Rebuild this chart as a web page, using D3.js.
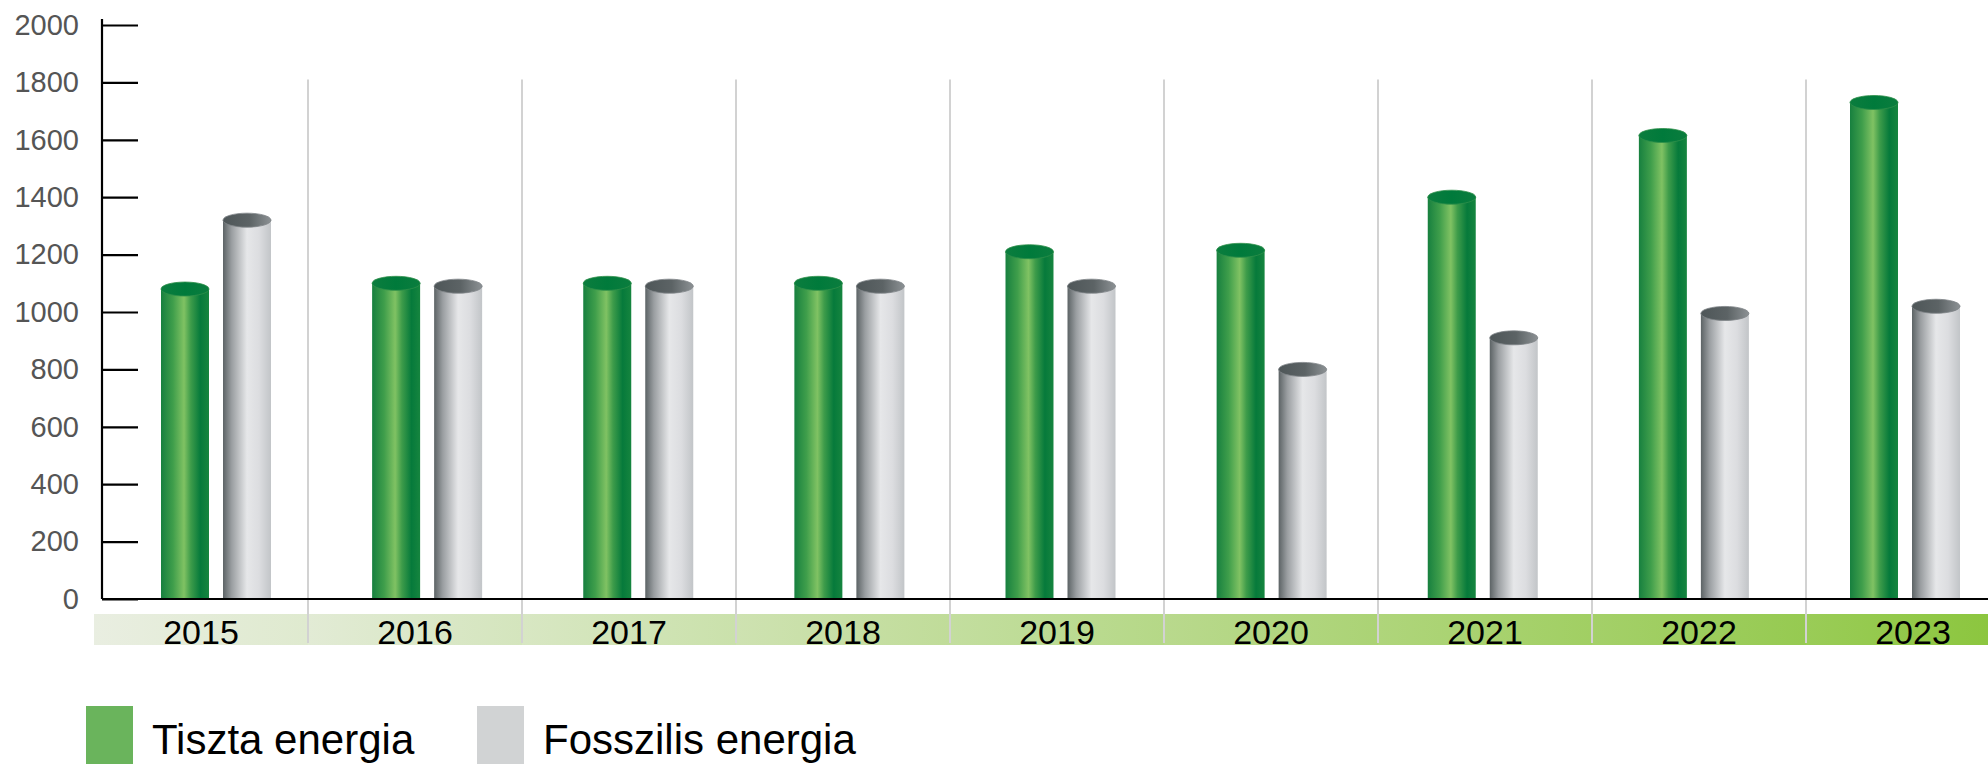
<!DOCTYPE html>
<html>
<head>
<meta charset="utf-8">
<script src="https://cdn.jsdelivr.net/npm/d3@7"></script>
<style>
  html, body { margin: 0; padding: 0; background: #fff; }
  svg { display: block; font-family: "Liberation Sans", Arial, sans-serif; }
</style>
</head>
<body>
<div id="chart"></div>
<script>
// Chart data
const years = ["2015", "2016", "2017", "2018", "2019", "2020", "2021", "2022", "2023"];
const seriesNames = ["Tiszta energia", "Fosszilis energia"];
const cleanEnergy = [1080, 1100, 1100, 1100, 1210, 1215, 1400, 1615, 1730];
const fossilEnergy = [1320, 1090, 1090, 1090, 1090, 800, 910, 995, 1020];
const yTicks = [0, 200, 400, 600, 800, 1000, 1200, 1400, 1600, 1800, 2000];

const width = 1988, height = 764;

const svg = d3.select("#chart").append("svg")
    .attr("width", width)
    .attr("height", height);

const defs = svg.append("defs");

// Horizontal gradients for the cylinder bodies
function hGrad(id, stops) {
  const g = defs.append("linearGradient").attr("id", id)
      .attr("x1", "0%").attr("x2", "100%").attr("y1", "0%").attr("y2", "0%");
  stops.forEach(s => g.append("stop").attr("offset", s[0]).attr("stop-color", s[1]));
}
hGrad("greenBody", [["0%", "#17803f"], ["25%", "#3f9e4b"], ["48%", "#80c263"], ["62%", "#3e9c4a"], ["82%", "#067a3b"], ["100%", "#16853f"]]);
hGrad("grayBody", [["0%", "#5c6365"], ["18%", "#9a9ea1"], ["50%", "#e6e7e9"], ["75%", "#dcdde0"], ["100%", "#c2c5c8"]]);
hGrad("greenTop", [["0%", "#0b7d3e"], ["50%", "#007a3b"], ["100%", "#0b7d3e"]]);
hGrad("grayTop", [["0%", "#4e5658"], ["55%", "#5c6365"], ["100%", "#8c9194"]]);

// Scales: categories (band + separators) and bar pair centres
const x = d3.scaleBand().domain(years).range([94, 2020]).paddingInner(0).paddingOuter(0);
const xBar = d3.scalePoint().domain(years).range([216, 1905]);
const x1 = d3.scaleBand().domain(seriesNames).range([-55, 55]).paddingInner(0.226).paddingOuter(0);
const y = d3.scaleLinear().domain([0, 2000]).range([599, 25]);

// Category band under the axis, gradient from pale to green
const bandColor = d3.interpolateRgb("#e9eee1", "#8cc63f");
const bandTop = 614, bandH = 31;
years.forEach((yr, i) => {
  const id = "band" + i;
  const g = defs.append("linearGradient").attr("id", id)
      .attr("x1", "0%").attr("x2", "100%").attr("y1", "0%").attr("y2", "0%");
  g.append("stop").attr("offset", "0%").attr("stop-color", bandColor(Math.max(0, i / 9 - 0.04)));
  g.append("stop").attr("offset", "100%").attr("stop-color", bandColor((i + 1) / 9));
  svg.append("rect")
      .attr("x", x(yr))
      .attr("y", bandTop)
      .attr("width", Math.min(x.bandwidth(), width - x(yr)))
      .attr("height", bandH)
      .attr("fill", "url(#" + id + ")");
});

// Vertical separators between categories
svg.append("g").selectAll("line")
  .data(years.slice(1))
  .join("line")
    .attr("x1", d => x(d)).attr("x2", d => x(d))
    .attr("y1", y(1810)).attr("y2", bandTop + bandH - 2)
    .attr("stroke", "#d2d2d2")
    .attr("stroke-width", 2);

// Year labels
svg.append("g").selectAll("text")
  .data(years)
  .join("text")
    .attr("x", d => x(d) + x.bandwidth() / 2)
    .attr("y", 644)
    .attr("text-anchor", "middle")
    .attr("font-size", 34)
    .attr("fill", "#000")
    .text(d => d);

// Y axis
const yAxis = svg.append("g")
    .attr("transform", "translate(102,0)")
    .call(d3.axisLeft(y).tickValues(yTicks).tickFormat(d3.format("d"))
      .tickSizeInner(-36).tickSizeOuter(0).tickPadding(23));
yAxis.select(".domain").attr("stroke", "#000").attr("stroke-width", 2.2)
    .attr("d", "M0," + (y(2000) - 6) + "V" + y(0));
yAxis.selectAll(".tick line").attr("stroke", "#000").attr("stroke-width", 2.2);
yAxis.selectAll(".tick text")
    .attr("font-size", 29)
    .attr("fill", "#555")
    .attr("font-family", "'Liberation Sans', Arial, sans-serif");

// Baseline
svg.append("line")
    .attr("x1", 102).attr("x2", width)
    .attr("y1", y(0)).attr("y2", y(0))
    .attr("stroke", "#000")
    .attr("stroke-width", 2.2);

// Cylinders
const rows = years.map((yr, i) => ({ year: yr, values: [cleanEnergy[i], fossilEnergy[i]] }));
const ry = 7;
const groups = svg.append("g").selectAll("g")
  .data(rows)
  .join("g")
    .attr("transform", d => "translate(" + xBar(d.year) + ",0)");

const bars = groups.selectAll("g")
  .data(d => d.values.map((v, k) => ({ name: seriesNames[k], value: v, k: k })))
  .join("g");

bars.append("rect")
    .attr("x", d => x1(d.name))
    .attr("y", d => y(d.value))
    .attr("width", x1.bandwidth())
    .attr("height", d => y(0) - 1 - y(d.value))
    .attr("fill", d => d.k === 0 ? "url(#greenBody)" : "url(#grayBody)");

bars.append("ellipse")
    .attr("cx", d => x1(d.name) + x1.bandwidth() / 2)
    .attr("cy", d => y(d.value))
    .attr("rx", x1.bandwidth() / 2)
    .attr("ry", ry)
    .attr("fill", d => d.k === 0 ? "url(#greenTop)" : "url(#grayTop)")
    .attr("stroke", d => d.k === 0 ? "#2f8f4a" : "#7d8386")
    .attr("stroke-width", 0.8);

// Legend
const legendColors = ["#6ab45c", "#d1d3d4"];
const legendX = [86, 477];
const legend = svg.append("g").selectAll("g")
  .data(seriesNames)
  .join("g")
    .attr("transform", (d, i) => "translate(" + legendX[i] + ",706)");
legend.append("rect")
    .attr("width", 47)
    .attr("height", 60)
    .attr("fill", (d, i) => legendColors[i]);
legend.append("text")
    .attr("x", 66)
    .attr("y", 48)
    .attr("font-size", 42)
    .attr("fill", "#000")
    .text(d => d);
</script>
</body>
</html>
